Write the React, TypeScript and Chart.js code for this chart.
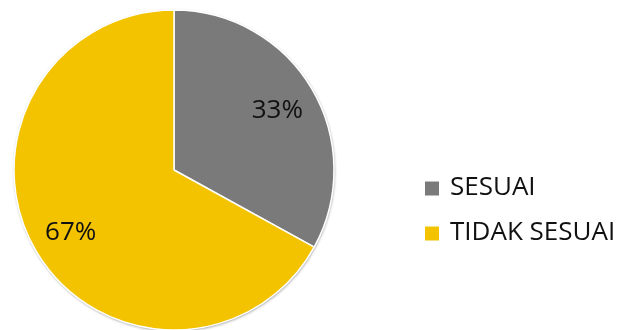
import React, { useEffect, useRef } from "react";
import { Chart, registerables } from "chart.js";

Chart.register(...registerables);

const categories = ["SESUAI", "TIDAK SESUAI"];
const values = [33, 67];
const valueLabels = ["33%", "67%"];
const colors = ["#7a7a7a", "#f4c300"];

const FONT = "'Open Sans', 'Noto Sans', sans-serif";

const shadowPlugin = {
  id: "pieShadow",
  beforeDatasetsDraw(chart: any) {
    const meta = chart.getDatasetMeta(0);
    const arc = meta.data[0];
    if (!arc) return;
    const { x, y, outerRadius } = arc.getProps(["x", "y", "outerRadius"], true);
    const ctx = chart.ctx;
    ctx.save();
    ctx.shadowColor = "rgba(0,0,0,0.45)";
    ctx.shadowBlur = 3;
    ctx.shadowOffsetX = 0.5;
    ctx.shadowOffsetY = 1;
    ctx.beginPath();
    ctx.arc(x, y, outerRadius, 0, Math.PI * 2);
    ctx.fillStyle = "#ffffff";
    ctx.fill();
    ctx.restore();
  },
};

const labelPlugin = {
  id: "sliceLabels",
  afterDatasetsDraw(chart: any) {
    const meta = chart.getDatasetMeta(0);
    const ctx = chart.ctx;
    ctx.save();
    ctx.font = `26px ${FONT}`;
    ctx.fillStyle = "#111111";
    ctx.textAlign = "center";
    ctx.textBaseline = "middle";
    meta.data.forEach((arc: any, i: number) => {
      const { x, y, startAngle, endAngle, outerRadius } = arc.getProps(
        ["x", "y", "startAngle", "endAngle", "outerRadius"],
        true
      );
      const mid = (startAngle + endAngle) / 2;
      const r = outerRadius * 0.75;
      ctx.fillText(valueLabels[i], x + Math.cos(mid) * r, y + Math.sin(mid) * r + 2);
    });
    ctx.restore();
  },
};

const legendPlugin = {
  id: "sideLegend",
  afterDraw(chart: any) {
    const ctx = chart.ctx;
    const ds = chart.data.datasets[0];
    const rowY = [188.5, 233.5];
    ctx.save();
    ctx.font = `26px ${FONT}`;
    ctx.textAlign = "left";
    ctx.textBaseline = "middle";
    chart.data.labels.forEach((label: string, i: number) => {
      const cy = rowY[i];
      ctx.fillStyle = ds.backgroundColor[i];
      ctx.fillRect(425, cy - 7, 14, 14);
      ctx.fillStyle = "#111111";
      ctx.fillText(label, 450, cy - 1);
    });
    ctx.restore();
  },
};

export default function App() {
  const canvasRef = useRef<HTMLCanvasElement | null>(null);

  useEffect(() => {
    document.body.style.margin = "0";
    const canvas = canvasRef.current;
    if (!canvas) return;
    const chart = new Chart(canvas, {
      type: "pie",
      data: {
        labels: categories,
        datasets: [
          {
            data: values,
            backgroundColor: colors,
            borderColor: "#ffffff",
            borderWidth: 1.5,
            radius: 160,
          } as any,
        ],
      },
      options: {
        animation: false,
        responsive: false,
        maintainAspectRatio: false,
        devicePixelRatio: 1,
        layout: { padding: { left: 0, right: 274, top: 10, bottom: 0 } },
        plugins: {
          legend: { display: false },
          tooltip: { enabled: false },
        },
      },
      plugins: [shadowPlugin, labelPlugin, legendPlugin],
    });
    return () => chart.destroy();
  }, []);

  return (
    <div style={{ position: "absolute", left: 0, top: 0, width: 622, height: 330, background: "#ffffff" }}>
      <canvas ref={canvasRef} width={622} height={330} style={{ width: 622, height: 330, display: "block" }} />
    </div>
  );
}
